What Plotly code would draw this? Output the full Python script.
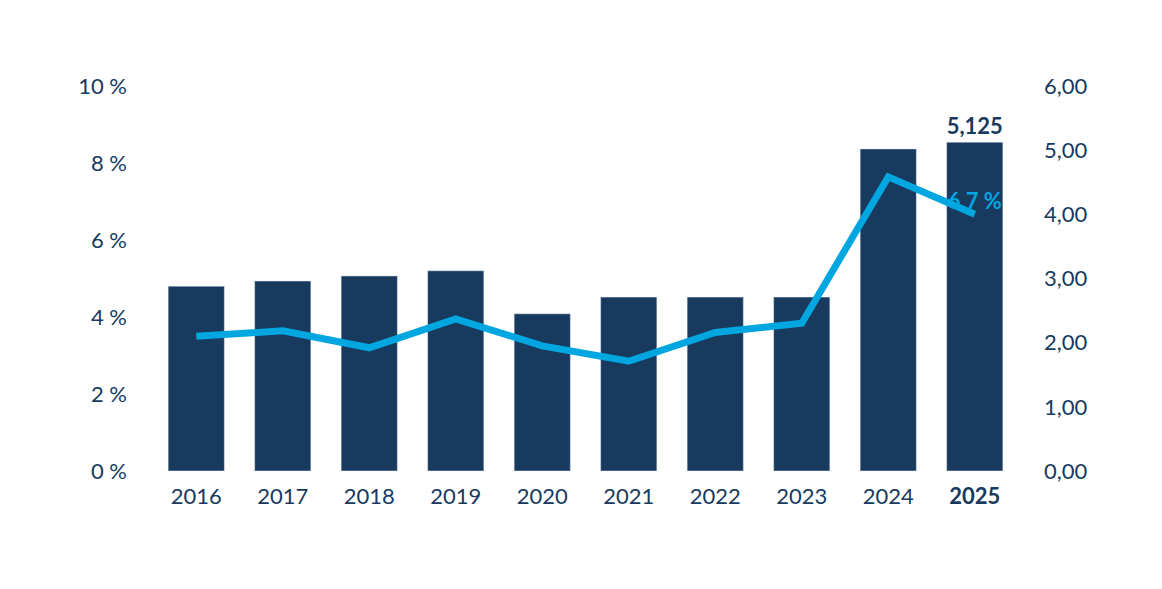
import plotly.graph_objects as go

years = ["2016","2017","2018","2019","2020","2021","2022","2023","2024","2025"]
dividend = [2.88, 2.96, 3.04, 3.12, 2.45, 2.71, 2.71, 2.71, 5.02, 5.125]
yield_pct = [3.5, 3.64, 3.2, 3.95, 3.25, 2.85, 3.6, 3.84, 7.64, 6.67]
ticktext_x = years[:-1] + ["<b>2025</b>"]
left_ticks = [0, 2, 4, 6, 8, 10]
right_ticks = [0, 1, 2, 3, 4, 5, 6]

navy = "#173a5e"
blue = "#00a6e0"
font = "Lato"

fig = go.Figure()
fig.add_trace(go.Bar(x=years, y=dividend, yaxis="y", marker_color=navy, width=0.65,
                     text=[""]*9 + ["<b>5,125</b>"], textposition="outside",
                     textfont=dict(size=22, color=navy, family=font), cliponaxis=False))
fig.add_trace(go.Scatter(x=years, y=yield_pct, yaxis="y2", mode="lines+text",
                         line=dict(color=blue, width=7),
                         text=[""]*9 + ["<b>6,7 %</b>"], textposition="top center",
                         textfont=dict(size=22, color=blue, family=font), cliponaxis=False))
fig.update_layout(
    width=1162, height=589, showlegend=False, plot_bgcolor="white", paper_bgcolor="white",
    margin=dict(l=145, r=152, t=78, b=126), font=dict(family=font, size=22, color=navy),
    xaxis=dict(tickvals=years, ticktext=ticktext_x, showgrid=False, showline=False, ticks="",
               ticklabelstandoff=10),
    yaxis=dict(range=[0, 6], side="right", tickvals=right_ticks,
               ticktext=[f"{v},00" for v in right_ticks], showgrid=False, zeroline=False,
               ticklabelstandoff=25),
    yaxis2=dict(range=[0, 10], overlaying="y", side="left", tickvals=left_ticks,
                ticktext=[f"{v} %" for v in left_ticks], showgrid=False, zeroline=False,
                ticklabelstandoff=25),
    bargap=0.35,
)
fig.write_html("out.html")
